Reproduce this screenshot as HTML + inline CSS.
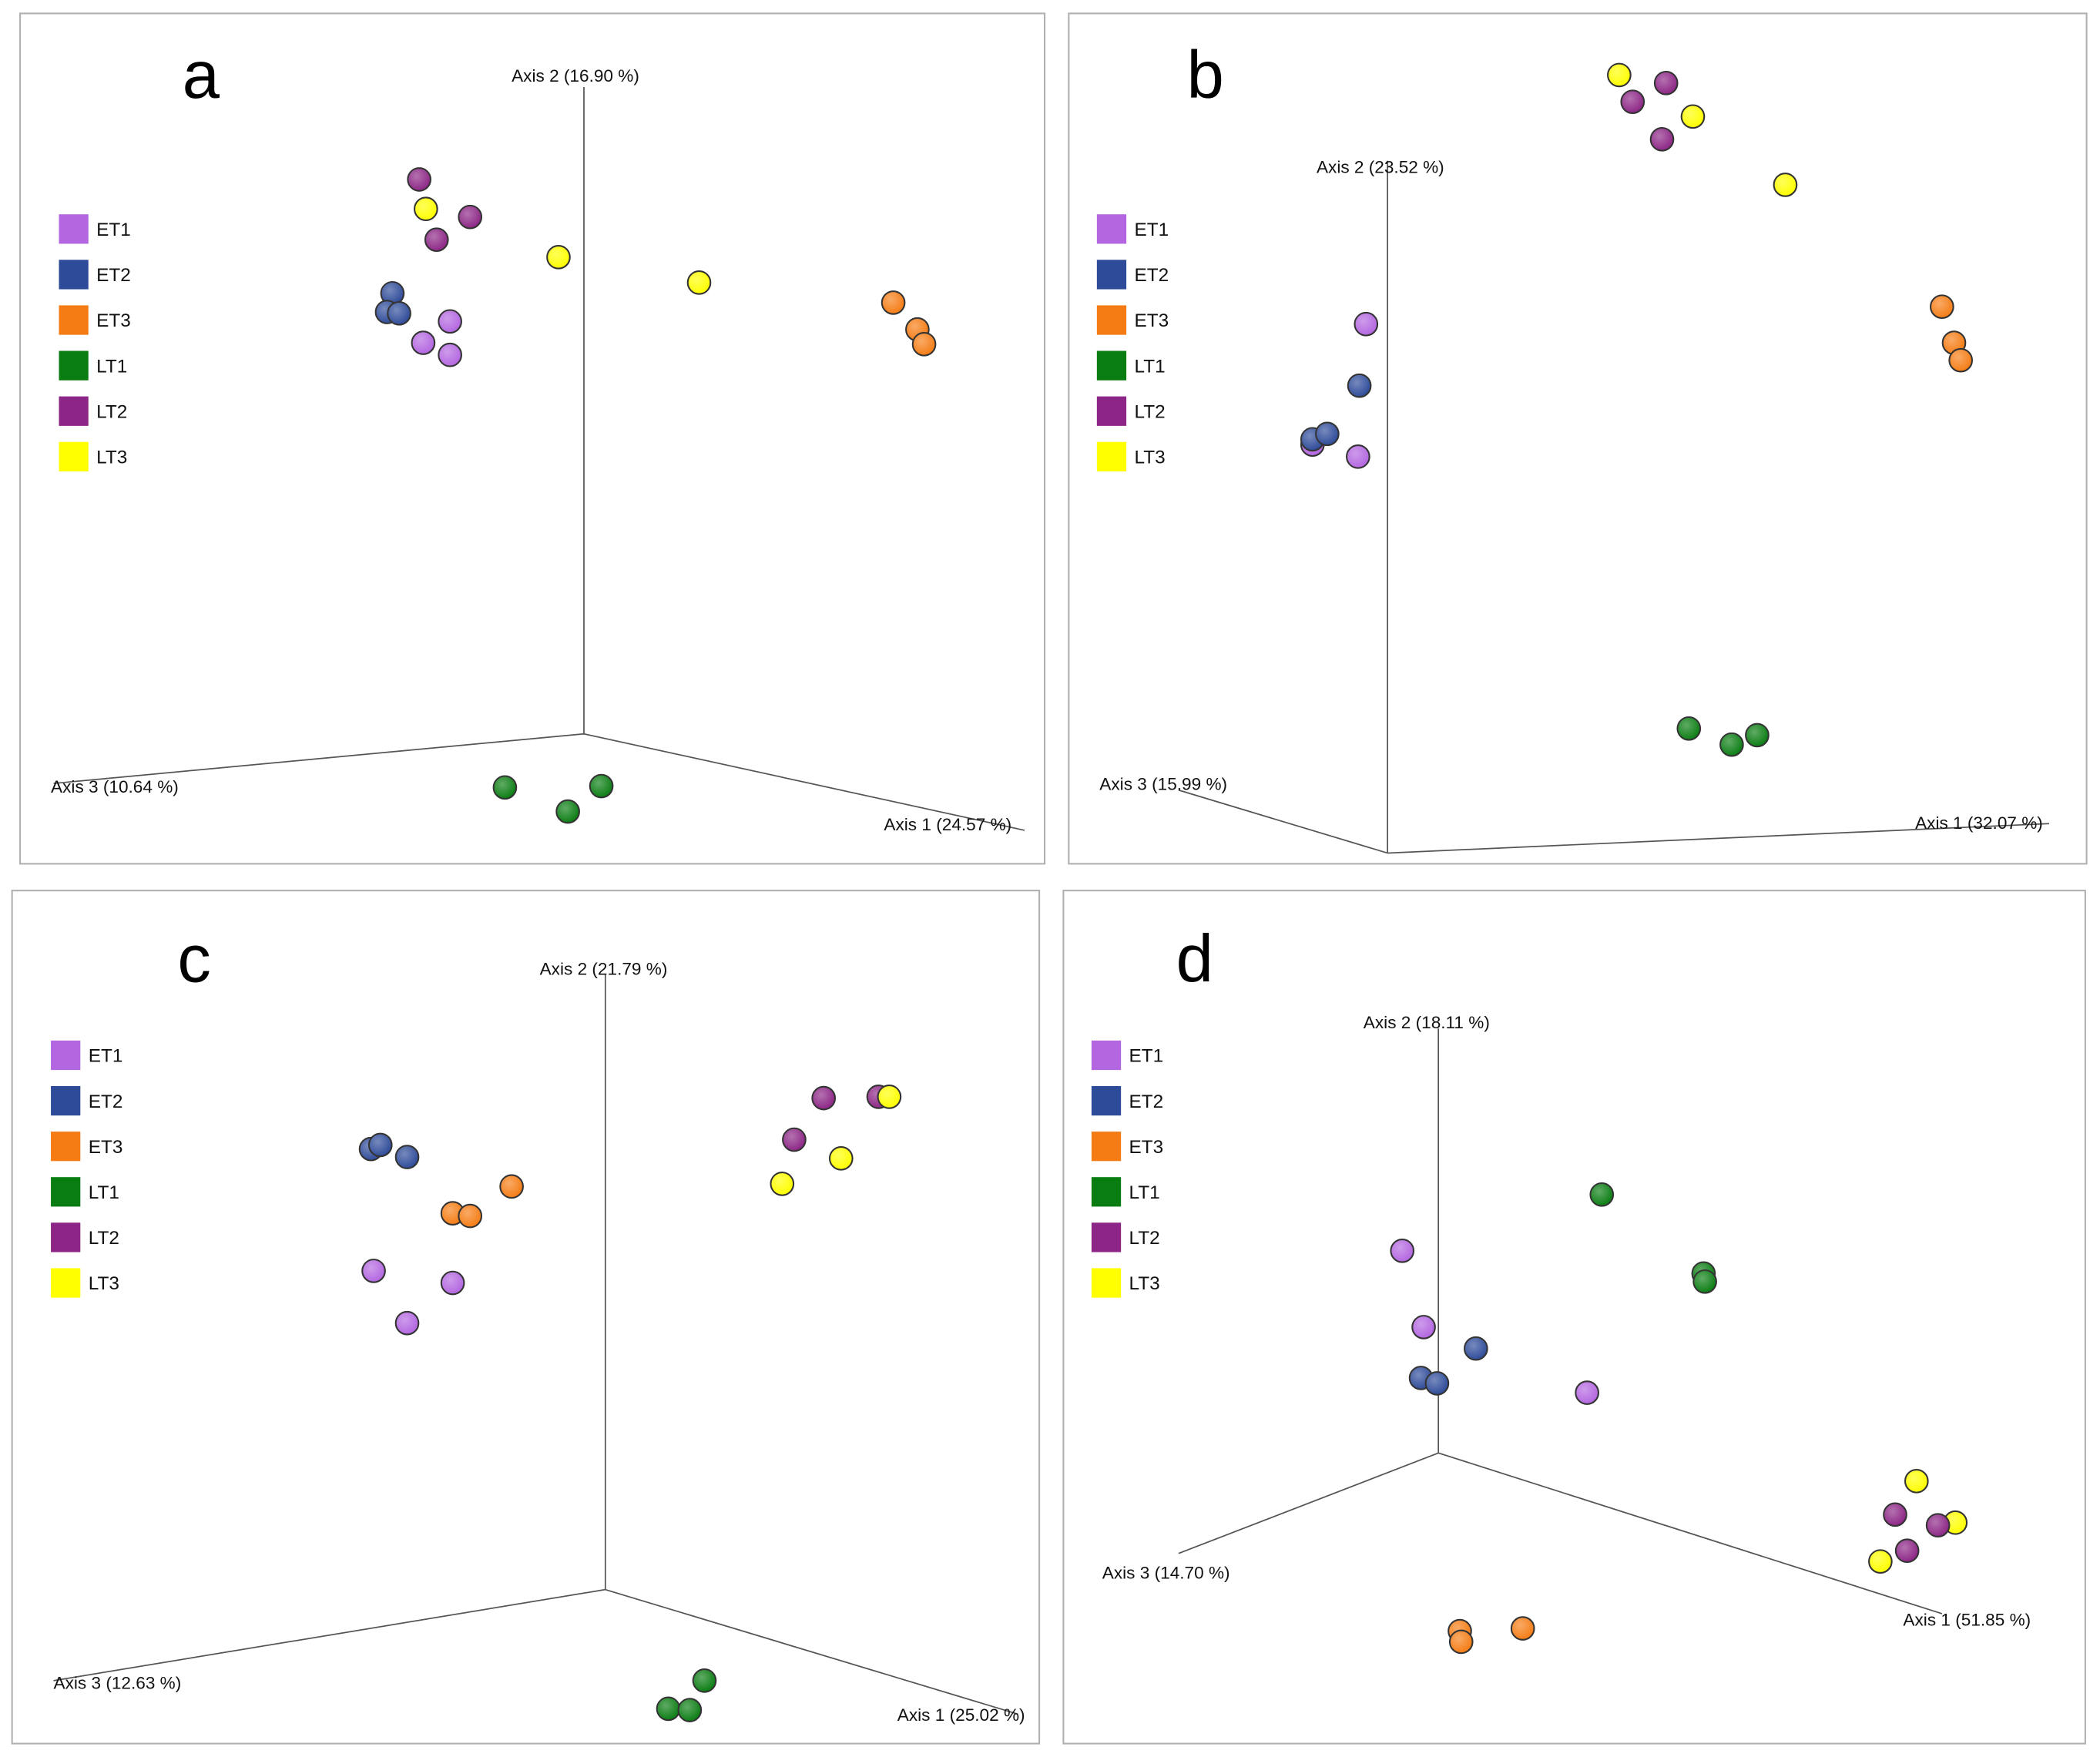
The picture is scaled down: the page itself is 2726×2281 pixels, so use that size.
<!DOCTYPE html>
<html><head><meta charset="utf-8">
<style>
html,body{margin:0;padding:0;background:#fff;}
svg{display:block;}
text{font-family:"Liberation Sans",Arial,sans-serif;}
</style></head>
<body>
<svg id="chart" width="2726" height="2281" viewBox="0 0 1568 1312" xmlns="http://www.w3.org/2000/svg">
<defs>
<radialGradient id="shine" cx="0.38" cy="0.35" r="0.7">
<stop offset="0" stop-color="#fff" stop-opacity="0.35"/>
<stop offset="1" stop-color="#fff" stop-opacity="0"/>
</radialGradient>
</defs>
</svg>
<script>
// Group colours / legend
const groups = ["ET1","ET2","ET3","LT1","LT2","LT3"];
const colors = ["#b366e0","#2e4b99","#f57c14","#0a7d12","#8c2585","#ffff00"];

// Panel a: projected point coordinates (horizontal, vertical) relative to axis origin
const aGroup = ["LT2","LT2","LT2","LT3","LT3","LT3","ET2","ET2","ET2","ET1","ET1","ET1","ET3","ET3","ET3","LT1","LT1","LT1"];
const aX = [-123,-85,-110,-118,-19,86,-143,-147,-138,-100,-120,-100,231,249,254,-59,13,-12];
const aY = [414,386,369,392,356,337,329,315,314,308,292,283,322,302,291,-40,-39,-58];

// Panel b
const bGroup = ["LT3","LT3","LT3","LT2","LT2","LT2","ET1","ET1","ET1","ET2","ET2","ET2","ET3","ET3","ET3","LT1","LT1","LT1"];
const bX = [173,228,297,208,183,205,-16,-56,-22,-21,-56,-45,414,423,428,225,257,276];
const bY = [581,550,499,575,561,533,395,305,296,349,309,313,408,381,368,93,81,88];

// Panel c
const cGroup = ["LT2","LT2","LT2","LT3","LT3","LT3","ET2","ET2","ET2","ET3","ET3","ET3","ET1","ET1","ET1","LT1","LT1","LT1"];
const cX = [163,204,141,212,176,132,-175,-168,-148,-70,-114,-101,-173,-114,-148,74,47,63];
const cY = [367,368,336,368,322,303,329,332,323,301,281,279,238,229,199,-68,-89,-90];

// Panel d
const dGroup = ["LT1","LT1","LT1","ET1","ET1","ET1","ET2","ET2","ET2","LT3","LT3","LT3","LT2","LT2","LT2","ET3","ET3","ET3"];
const dX = [122,198,199,-27,-11,111,28,-13,-1,357,386,330,341,373,350,16,17,63];
const dY = [193,134,128,151,94,45,78,56,52,-21,-52,-81,-46,-54,-73,-133,-141,-131];

const panels = [
 {id:"a", letter:[150,55], frame:[15,10,765,635], origin:[436,548], ax2:[436,65], ax3:[40,585], ax1:[765,620],
  l2:["Axis 2 (16.90 %)",382,61], l3:["Axis 3 (10.64 %)",38,592], l1:["Axis 1 (24.57 %)",660,620],
  legX:44, legY:171, g:aGroup, xs:aX, ys:aY},
 {id:"b", letter:[900,55], frame:[798,10,760,635], origin:[1036,637], ax2:[1036,120], ax3:[880,590], ax1:[1530,615],
  l2:["Axis 2 (23.52 %)",983,129], l3:["Axis 3 (15.99 %)",821,590], l1:["Axis 1 (32.07 %)",1430,619],
  legX:819, legY:171, g:bGroup, xs:bX, ys:bY},
 {id:"c", letter:[145,715], frame:[9,665,767,637], origin:[452,1187], ax2:[452,728], ax3:[40,1255], ax1:[760,1280],
  l2:["Axis 2 (21.79 %)",403,728], l3:["Axis 3 (12.63 %)",40,1261], l1:["Axis 1 (25.02 %)",670,1285],
  legX:38, legY:788, g:cGroup, xs:cX, ys:cY},
 {id:"d", letter:[892,715], frame:[794,665,763,637], origin:[1074,1085], ax2:[1074,768], ax3:[880,1160], ax1:[1450,1205],
  l2:["Axis 2 (18.11 %)",1018,768], l3:["Axis 3 (14.70 %)",823,1179], l1:["Axis 1 (51.85 %)",1421,1214],
  legX:815, legY:788, g:dGroup, xs:dX, ys:dY}
];

const NS = "http://www.w3.org/2000/svg";
const svg = document.getElementById("chart");
function mk(tag, attrs, parent){
  const e = document.createElementNS(NS, tag);
  for (const k in attrs) e.setAttribute(k, attrs[k]);
  (parent||svg).appendChild(e);
  return e;
}

panels.forEach(p => {
  const g = mk("g", {});
  
  
  const fr = mk("rect", {x:p.frame[0], y:p.frame[1], width:p.frame[2], height:p.frame[3], fill:"#fff", stroke:"#b0b0b0", "stroke-width":1.2}, g);
  
  
  const xScale = v => p.origin[0] + v;
  const yScale = v => p.origin[1] - v;
  [["ax2","axis-2-line"],["ax3","axis-3-line"],["ax1","axis-1-line"]].forEach(([k,n]) => {
    const ln = mk("line", {x1:p.origin[0], y1:p.origin[1], x2:p[k][0], y2:p[k][1], stroke:"#555", "stroke-width":1}, g);
    
    
  });
  [["l2","axis-2-title"],["l3","axis-3-title"],["l1","axis-1-title"]].forEach(([k,n]) => {
    const t = mk("text", {x:p[k][1], y:p[k][2], "font-size":13, fill:"#111"}, g);
    t.textContent = p[k][0];
    
    
  });
  const lt = mk("text", {x:p.letter[0], y:p.letter[1]+18, "font-size":50, "text-anchor":"middle", fill:"#000"}, g);
  lt.textContent = p.id;
  
  
  groups.forEach((gr, i) => {
    const cy = p.legY + i*34;
    const sq = mk("rect", {x:p.legX, y:cy-11, width:22, height:22, fill:colors[i]}, g);
    
    
    const tx = mk("text", {x:p.legX+28, y:cy+5, "font-size":14, fill:"#111"}, g);
    tx.textContent = gr;
    
    
  });
  p.xs.forEach((v, i) => {
    const col = colors[groups.indexOf(p.g[i])];
    const c = mk("circle", {cx:xScale(v), cy:yScale(p.ys[i]), r:8.5, fill:col, stroke:"#333", "stroke-width":1.2}, g);
    
    
    const h = mk("circle", {cx:xScale(v), cy:yScale(p.ys[i]), r:8, fill:"url(#shine)"}, g);
    
    
  });
});
</script>
</body></html>
